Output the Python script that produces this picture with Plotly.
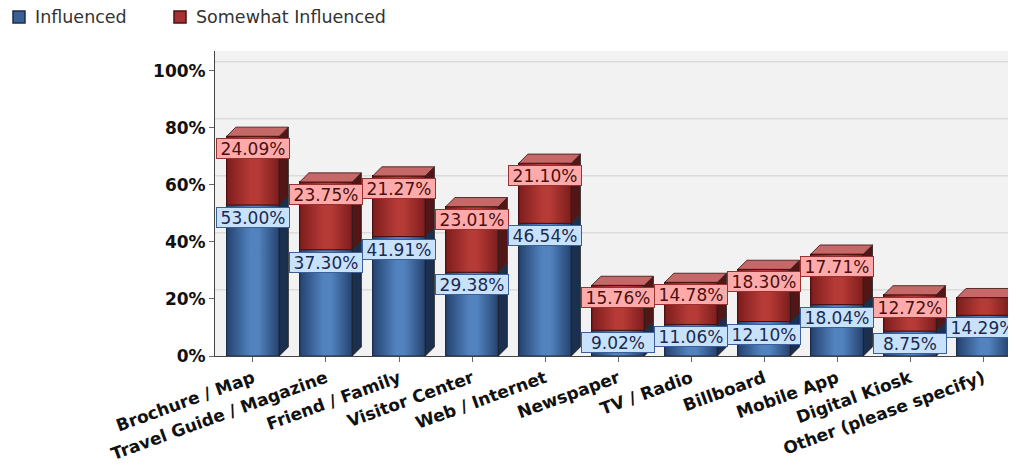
import plotly.graph_objects as go

categories = ["Brochure / Map", "Travel Guide / Magazine", "Friend / Family", "Visitor Center",
              "Web / Internet", "Newspaper", "TV / Radio", "Billboard", "Mobile App",
              "Digital Kiosk", "Other (please specify)"]
influenced = [53.00, 37.30, 41.91, 29.38, 46.54, 9.02, 11.06, 12.10, 18.04, 8.75, 14.29]
somewhat = [24.09, 23.75, 21.27, 23.01, 21.10, 15.76, 14.78, 18.30, 17.71, 12.72, 6.2]
y_ticks = [0, 20, 40, 60, 80, 100]
series_names = ["Influenced", "Somewhat Influenced"]

BLUE = "#3a6096"
BLUE_EDGE = "#24426f"
BLUE_MID = "#5283bf"
BLUE_SIDE = "#1b2f4f"
RED = "#a53232"
RED_EDGE = "#7c1d1d"
RED_MID = "#b63a36"
RED_SIDE = "#531616"
RED_TOP = "#c56868"

bar_w = 0.72
dx = 0.125   # depth offset in category units
dy = 3.2     # depth offset in percent units

L, T, B = 207, 43, 126
PLOT_LEFT = L + 8
PLOT_TOP = T + 8

fig = go.Figure()
xs = list(range(len(categories)))
fig.add_trace(go.Bar(x=xs, y=influenced, name=series_names[0], width=bar_w, showlegend=False,
                     marker=dict(color=BLUE, line=dict(color="#1b2d4a", width=1))))
fig.add_trace(go.Bar(x=xs, y=somewhat, name=series_names[1], width=bar_w, showlegend=False,
                     marker=dict(color=RED, line=dict(color="#4a1010", width=1))))

shapes = []
annotations = []

# shaded front faces (cylinder-like highlight) over each stacked segment
for i, (a, b) in enumerate(zip(influenced, somewhat)):
    x0, x1 = i - bar_w / 2, i + bar_w / 2
    for lo, hi, edge, mid, outline in [(0, a, BLUE_EDGE, BLUE_MID, "#1b2d4a"),
                                       (a, a + b, RED_EDGE, RED_MID, "#4a1010")]:
        fig.add_trace(go.Scatter(
            x=[x0, x1, x1, x0, x0], y=[lo, lo, hi, hi, lo], mode="lines", fill="toself",
            fillgradient=dict(type="horizontal", start=x0, stop=x1,
                              colorscale=[[0, edge], [0.45, mid], [0.6, mid], [1, edge]]),
            line=dict(color=outline, width=1), hoverinfo="skip", showlegend=False))

# back-wall grid lines (shifted by depth)
for v in y_ticks[1:]:
    shapes.append(dict(type="line", xref="paper", yref="y", x0=0, x1=1, y0=v + dy, y1=v + dy,
                       layer="below", line=dict(color="#d0d0d0", width=1)))

for i, (a, b) in enumerate(zip(influenced, somewhat)):
    x1 = i + bar_w / 2
    x0 = i - bar_w / 2
    for (lo, hi, col) in [(0, a, BLUE_SIDE), (a, a + b, RED_SIDE)]:
        shapes.append(dict(type="path", xref="x", yref="y", layer="above",
                           path=f"M {x1},{lo} L {x1+dx},{lo+dy} L {x1+dx},{hi+dy} L {x1},{hi} Z",
                           fillcolor=col, line=dict(color="#222", width=0.8)))
    top = a + b
    shapes.append(dict(type="path", xref="x", yref="y", layer="above",
                       path=f"M {x0},{top} L {x0+dx},{top+dy} L {x1+dx},{top+dy} L {x1},{top} Z",
                       fillcolor=RED_TOP, line=dict(color="#3a0d0d", width=0.8)))
    annotations.append(dict(x=i, y=a, xref="x", yref="y", text=f"{a:.2f}%", showarrow=False,
                            yanchor="top", yshift=-2, width=72, height=19,
                            font=dict(family="DejaVu Sans", size=17, color="#1a2a50"),
                            bgcolor="#c9e2fb", bordercolor="#3a5f99", borderwidth=1, borderpad=0))
    if b >= 8:
        annotations.append(dict(x=i, y=top, xref="x", yref="y", text=f"{b:.2f}%", showarrow=False,
                                yanchor="top", yshift=-2, width=72, height=19,
                                font=dict(family="DejaVu Sans", size=17, color="#4a1010"),
                                bgcolor="#ffaaaa", bordercolor="#9a3030", borderwidth=1, borderpad=0))

# manual legend (pixel offsets from plot-area top-left)
legend_items = [(series_names[0], BLUE, "#1b2d4a", 13), (series_names[1], RED, "#4a1010", 174)]
for name, col, edge, px in legend_items:
    shapes.append(dict(type="rect", xref="paper", yref="paper", xsizemode="pixel", ysizemode="pixel",
                       xanchor=0, yanchor=1, x0=px - PLOT_LEFT, x1=px + 12 - PLOT_LEFT,
                       y0=PLOT_TOP - 23, y1=PLOT_TOP - 11,
                       fillcolor=col, line=dict(color=edge, width=1.5)))
    annotations.append(dict(xref="paper", yref="paper", x=0, y=1, xanchor="left", yanchor="middle",
                            xshift=px + 20 - PLOT_LEFT, yshift=PLOT_TOP - 17, text=name,
                            showarrow=False, font=dict(family="DejaVu Sans", size=17.5, color="#333")))

fig.update_layout(
    barmode="stack",
    width=1016, height=474,
    margin=dict(l=L, r=0, t=T, b=B),
    paper_bgcolor="white",
    plot_bgcolor="#f2f2f2",
    shapes=shapes,
    annotations=annotations,
    showlegend=False,
    font=dict(family="DejaVu Sans"),
)
fig.update_xaxes(
    tickmode="array", tickvals=xs, ticktext=categories,
    range=[-0.52, 10.56], tickangle=-20,
    tickfont=dict(family="DejaVu Sans", size=17, color="#111", weight="bold"),
    ticks="outside", ticklen=5, tickcolor="#666",
    showline=True, linecolor="#444", linewidth=1, showgrid=False,
)
fig.update_yaxes(
    range=[0, 107], tickmode="array", tickvals=y_ticks, ticktext=[f"{v}%" for v in y_ticks],
    tickfont=dict(family="DejaVu Sans", size=17, color="#111", weight="bold"),
    ticks="outside", ticklen=5, tickcolor="#666",
    showline=True, linecolor="#444", linewidth=1,
    showgrid=False, zeroline=False,
)

fig.write_html("out.html")
